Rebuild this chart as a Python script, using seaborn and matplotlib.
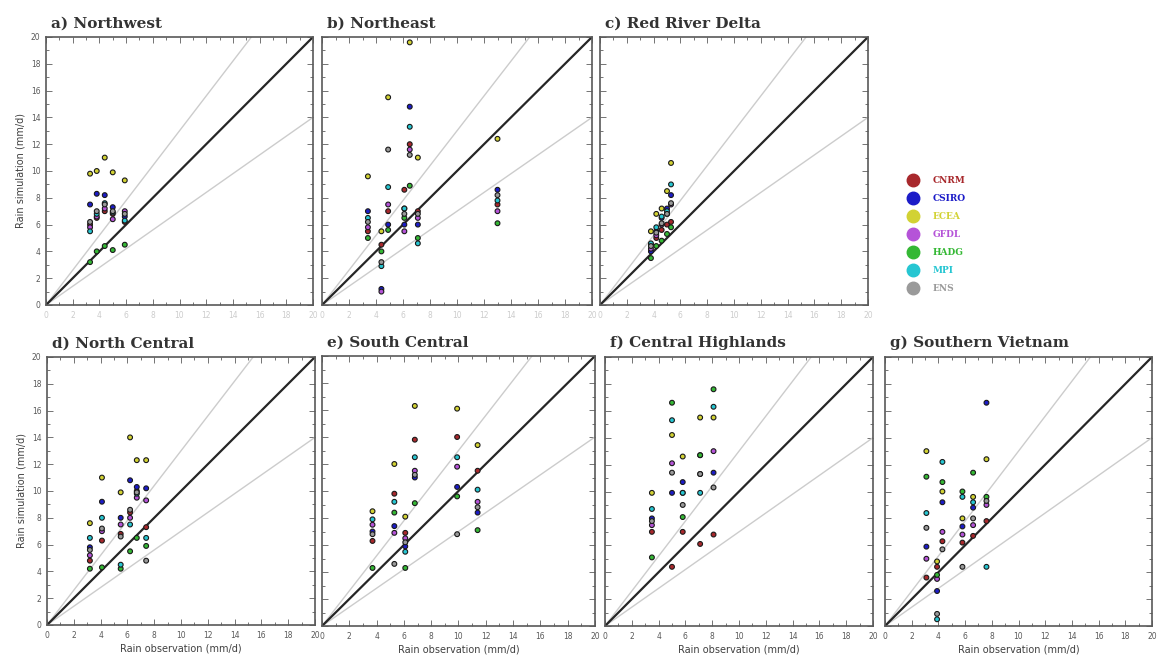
import numpy as np
import pandas as pd
import matplotlib
matplotlib.use("Agg")
import matplotlib.pyplot as plt
from matplotlib.lines import Line2D
import seaborn as sns

# ---- data: observed station means (x) and simulated means per model (y), mm/d ----
models = ["CNRM", "CSIRO", "ECEA", "GFDL", "HADG", "MPI", "ENS"]
model_colors = ["#a8282c", "#1c1cc8", "#d2d233", "#b553d8", "#34b834", "#26c6d2", "#9a9a9a"]

titles = ["a) Northwest", "b) Northeast", "c) Red River Delta",
          "d) North Central", "e) South Central", "f) Central Highlands",
          "g) Southern Vietnam"]

obs_nw = [3.3, 3.8, 4.4, 5.0, 5.9]
sim_nw = {
    "CNRM":  [6.0, 6.5, 7.0, 6.8, 6.2],
    "CSIRO": [7.5, 8.3, 8.2, 7.3, 6.6],
    "ECEA":  [9.8, 10.0, 11.0, 9.9, 9.3],
    "GFDL":  [5.8, 6.6, 7.2, 6.4, 7.0],
    "HADG":  [3.2, 4.0, 4.4, 4.1, 4.5],
    "MPI":   [5.5, 6.8, 7.6, 6.9, 6.3],
    "ENS":   [6.2, 7.0, 7.5, 7.0, 6.8],
}

obs_ne = [3.4, 4.4, 4.9, 6.1, 6.5, 7.1, 13.0]
sim_ne = {
    "CNRM":  [5.5, 4.5, 7.0, 8.6, 12.0, 7.0, 7.5],
    "CSIRO": [7.0, 1.2, 6.0, 6.0, 14.8, 6.0, 8.6],
    "ECEA":  [9.6, 5.5, 15.5, 7.2, 19.6, 11.0, 12.4],
    "GFDL":  [5.8, 1.0, 7.5, 5.5, 11.6, 6.5, 7.0],
    "HADG":  [5.0, 4.0, 5.6, 6.5, 8.9, 5.0, 6.1],
    "MPI":   [6.5, 2.9, 8.8, 7.2, 13.3, 4.6, 7.8],
    "ENS":   [6.2, 3.2, 11.6, 6.8, 11.2, 6.8, 8.2],
}

obs_rrd = [3.8, 4.2, 4.6, 5.0, 5.3]
sim_rrd = {
    "CNRM":  [4.5, 5.0, 5.6, 6.0, 6.2],
    "CSIRO": [4.0, 5.5, 6.5, 7.2, 8.2],
    "ECEA":  [5.5, 6.8, 7.2, 8.5, 10.6],
    "GFDL":  [4.2, 5.2, 6.0, 6.8, 7.5],
    "HADG":  [3.5, 4.4, 4.8, 5.3, 5.8],
    "MPI":   [4.6, 5.8, 6.6, 7.0, 9.0],
    "ENS":   [4.4, 5.4, 6.1, 6.8, 7.6],
}

obs_nc = [3.2, 4.1, 5.5, 6.2, 6.7, 7.4]
sim_nc = {
    "CNRM":  [4.8, 6.3, 6.8, 8.4, 10.0, 7.3],
    "CSIRO": [5.8, 9.2, 8.0, 10.8, 10.3, 10.2],
    "ECEA":  [7.6, 11.0, 9.9, 14.0, 12.3, 12.3],
    "GFDL":  [5.2, 7.0, 7.5, 8.0, 9.5, 9.3],
    "HADG":  [4.2, 4.3, 4.2, 5.5, 6.5, 5.9],
    "MPI":   [6.5, 8.0, 4.5, 7.5, 9.8, 6.5],
    "ENS":   [5.6, 7.2, 6.6, 8.6, 9.9, 4.8],
}

obs_sc = [3.7, 5.3, 6.1, 6.8, 9.9, 11.4]
sim_sc = {
    "CNRM":  [6.3, 9.8, 6.9, 13.8, 14.0, 11.5],
    "CSIRO": [7.0, 7.4, 5.9, 11.0, 10.3, 8.4],
    "ECEA":  [8.5, 12.0, 8.1, 16.3, 16.1, 13.4],
    "GFDL":  [7.5, 6.9, 6.5, 11.5, 11.8, 9.2],
    "HADG":  [4.3, 8.4, 4.3, 9.1, 9.6, 7.1],
    "MPI":   [7.9, 9.2, 5.5, 12.5, 12.5, 10.1],
    "ENS":   [6.8, 4.6, 6.2, 11.2, 6.8, 8.8],
}

obs_ch = [3.5, 5.0, 5.8, 7.1, 8.1]
sim_ch = {
    "CNRM":  [7.0, 4.4, 7.0, 6.1, 6.8],
    "CSIRO": [8.0, 9.9, 10.7, 12.7, 11.4],
    "ECEA":  [9.9, 14.2, 12.6, 15.5, 15.5],
    "GFDL":  [7.5, 12.1, 9.9, 11.3, 13.0],
    "HADG":  [5.1, 16.6, 8.1, 12.7, 17.6],
    "MPI":   [8.7, 15.3, 9.9, 9.9, 16.3],
    "ENS":   [7.8, 11.4, 9.0, 11.3, 10.3],
}

obs_sv = [3.1, 3.9, 4.3, 5.8, 6.6, 7.6]
sim_sv = {
    "CNRM":  [3.6, 4.4, 6.3, 6.2, 6.7, 7.8],
    "CSIRO": [5.9, 2.6, 9.2, 7.4, 8.8, 16.6],
    "ECEA":  [13.0, 4.8, 10.0, 8.0, 9.6, 12.4],
    "GFDL":  [5.0, 3.5, 7.0, 6.8, 7.5, 9.0],
    "HADG":  [11.1, 3.8, 10.7, 10.0, 11.4, 9.6],
    "MPI":   [8.4, 0.5, 12.2, 9.6, 9.2, 4.4],
    "ENS":   [7.3, 0.9, 5.7, 4.4, 8.0, 9.3],
}

regions = [(obs_nw, sim_nw), (obs_ne, sim_ne), (obs_rrd, sim_rrd),
           (obs_nc, sim_nc), (obs_sc, sim_sc), (obs_ch, sim_ch), (obs_sv, sim_sv)]

ticks = list(range(0, 21, 2))

# ---- layout ----
sns.set_theme(style="white")
plt.rcParams["font.family"] = ["DejaVu Sans"]

W, H = 1159, 664
fig = plt.figure(figsize=(W / 100, H / 100), dpi=100)

# axes boxes in pixels: (left, top, right, bottom)
boxes = [(46, 37, 313, 305), (322, 37, 592, 305), (600, 37, 868, 305),
         (47, 357, 315, 625), (322, 356, 595, 626), (605, 357, 873, 626),
         (885, 357, 1152, 626)]

palette = dict(zip(models, model_colors))
ref = np.array([0, 20])

for i, ((obs, sim), (l, t, r, b)) in enumerate(zip(regions, boxes)):
    ax = fig.add_axes([l / W, 1 - b / H, (r - l) / W, (b - t) / H])
    rows = []
    for m in models:
        for xo, ys in zip(obs, sim[m]):
            rows.append({"obs": xo, "sim": ys, "model": m})
    df = pd.DataFrame(rows)

    ax.plot(ref, ref * 1.3, color="0.80", lw=1.0, zorder=1)
    ax.plot(ref, ref * 0.7, color="0.80", lw=1.0, zorder=1)
    ax.plot(ref, ref, color="0.15", lw=1.6, zorder=2)

    sns.scatterplot(data=df, x="obs", y="sim", hue="model", palette=palette,
                    hue_order=models, s=12, edgecolor="0.1", linewidth=0.8,
                    legend=False, ax=ax, zorder=3)

    ax.set_xlim(0, 20)
    ax.set_ylim(0, 20)
    ax.set_xticks(ticks)
    ax.set_yticks(ticks)
    ax.set_xticks(np.arange(0, 21, 1), minor=True)
    ax.set_yticks(np.arange(0, 21, 1), minor=True)
    ax.tick_params(which="both", direction="in", top=True, right=True,
                   bottom=True, left=True, color="0.45", width=0.7)
    ax.tick_params(which="major", length=4, labelsize=5.5, labelcolor="0.35", pad=4)
    ax.tick_params(which="minor", length=2)
    for sp in ax.spines.values():
        sp.set_color("0.35")
        sp.set_linewidth(1.2)

    top_row = i < 3
    left_col = i in (0, 3)
    if not left_col:
        ax.set_yticklabels([])
    if top_row:
        ax.tick_params(axis="x", labelcolor="0.8")
        ax.set_xlabel("")
    else:
        ax.set_xlabel("Rain observation (mm/d)", fontsize=7, color="0.25", labelpad=3)
    if left_col:
        ax.set_ylabel("Rain simulation (mm/d)", fontsize=7, color="0.25", labelpad=4)
    else:
        ax.set_ylabel("")

    ax.text(0.02, 1.025, titles[i], transform=ax.transAxes, ha="left", va="bottom",
            fontsize=11, fontweight="bold", family="DejaVu Serif", color="0.2")

# ---- model legend ----
handles = [Line2D([0], [0], marker="o", linestyle="", markersize=9,
                  markerfacecolor=c, markeredgecolor=c) for c in model_colors]
fig.legend(handles, models, loc="upper left", bbox_to_anchor=(896 / W, 1 - 168 / H),
           frameon=False, labelcolor=model_colors, handletextpad=1.2,
           labelspacing=1.0, prop={"family": "DejaVu Serif", "size": 6.5, "weight": "bold"})

fig.savefig("out.png", dpi=100)
